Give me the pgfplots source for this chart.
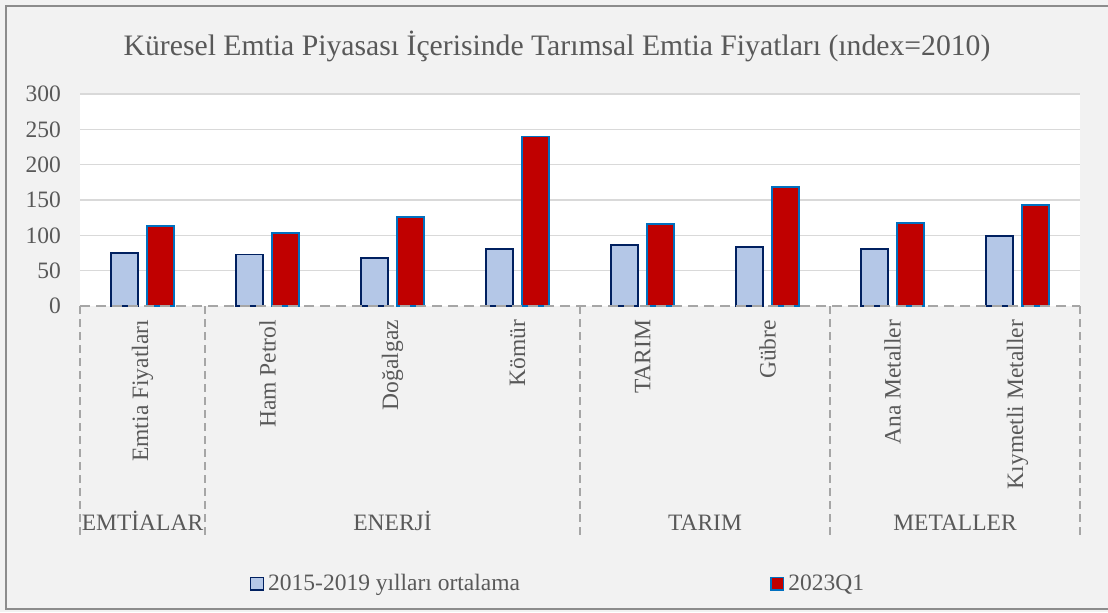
\documentclass[border=0pt]{standalone}
\usepackage{fontspec}
\setmainfont{Liberation Serif}
\usepackage{pgfplots}
\pgfplotsset{compat=1.18}
\definecolor{bgc}{HTML}{F2F2F2}
\definecolor{txt}{HTML}{595959}
\definecolor{gridc}{HTML}{D9D9D9}
\definecolor{sep}{HTML}{A6A6A6}
\definecolor{lblue}{HTML}{B4C7E7}
\definecolor{navy}{HTML}{002060}
\definecolor{dred}{HTML}{C00000}
\definecolor{mblue}{HTML}{0070C0}
\begin{document}
\begin{tikzpicture}[font=\fontsize{11.75}{13}\selectfont]
\useasboundingbox (0,0) rectangle (554pt,306pt);
\fill[bgc] (0,0) rectangle (554pt,306pt);
\draw[color=gray!90,line width=1.2pt] (560pt,303pt) -- (3pt,303pt) -- (3pt,1.5pt) -- (560pt,1.5pt);
\node[anchor=base,text=txt,font=\fontsize{14.85}{16}\selectfont] at (278.5pt,278pt)
  {Küresel Emtia Piyasası İçerisinde Tarımsal Emtia Fiyatları (ındex=2010)};
\begin{axis}[
  at={(40pt,153pt)}, anchor=south west,
  scale only axis, width=500pt, height=106pt,
  xmin=-0.5, xmax=7.5, ymin=0, ymax=300,
  axis background/.style={fill=white},
  axis line style={draw=none},
  major tick length=0pt,
  ytick={50,100,...,300},
  extra y ticks={0}, extra y tick style={grid=none},
  ymajorgrids, grid style={gridc,line width=0.8pt},
  yticklabel style={text=txt,/pgf/number format/assume math mode=true},
  yticklabel shift=6pt,
  xtick={0,...,7},
  xticklabels={Emtia Fiyatları,Ham Petrol,Doğalgaz,Kömür,TARIM,Gübre,Ana Metaller,Kıymetli Metaller},
  xticklabel style={rotate=90,anchor=east,text=txt},
  xticklabel shift=3.5pt,
  clip=false,
  legend columns=2,
  legend style={at={(0.5,-1.31)},anchor=center,xshift=-10.5pt,draw=none,fill=none,text=txt,
    /tikz/every even column/.append style={column sep=123pt}},
  legend cell align=left,
]
\addplot[ybar,bar width=13.5pt,bar shift=-9pt,fill=lblue,draw=navy,line width=0.9pt,
  legend image code/.code={\draw[fill=lblue,draw=navy,line width=0.8pt] (0pt,-3.2pt) rectangle (6.4pt,3.2pt);}]
  coordinates {(0,75) (1,73) (2,68) (3,81) (4,86) (5,84) (6,81) (7,99)};
\addlegendentry{2015-2019 yılları ortalama}
\addplot[ybar,bar width=13.5pt,bar shift=9pt,fill=dred,draw=mblue,line width=0.9pt,
  legend image code/.code={\draw[fill=dred,draw=mblue,line width=0.8pt] (0pt,-3.2pt) rectangle (6.4pt,3.2pt);}]
  coordinates {(0,113) (1,103) (2,126) (3,240) (4,116) (5,168) (6,118) (7,143)};
\addlegendentry{2023Q1}
\draw[sep,line width=1pt,dash pattern=on 5pt off 3pt] (axis cs:-0.5,0) -- (axis cs:7.5,0);
\pgfplotsinvokeforeach{-0.5,0.5,3.5,5.5,7.5}{
  \draw[sep,line width=0.6pt,dash pattern=on 4pt off 2.5pt] (axis cs:#1,0) -- ([yshift=-114.5pt]axis cs:#1,0);
}
\node[anchor=base,text=txt] at ([yshift=-112pt]axis cs:0,0) {EMTİALAR};
\node[anchor=base,text=txt] at ([yshift=-112pt]axis cs:2,0) {ENERJİ};
\node[anchor=base,text=txt] at ([yshift=-112pt]axis cs:4.5,0) {TARIM};
\node[anchor=base,text=txt] at ([yshift=-112pt]axis cs:6.5,0) {METALLER};
\end{axis}
\end{tikzpicture}
\end{document}
